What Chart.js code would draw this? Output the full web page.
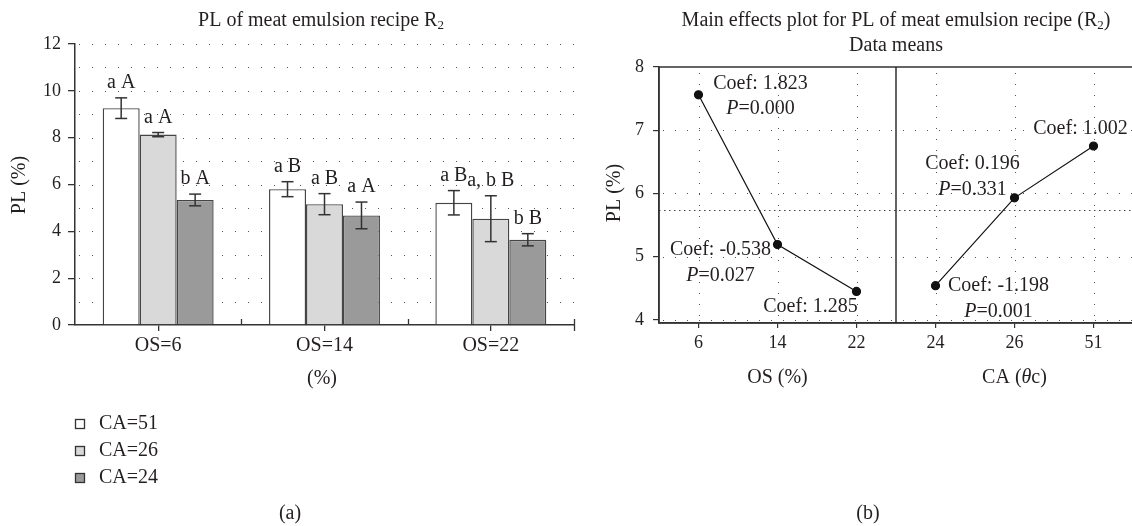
<!DOCTYPE html>
<html><head><meta charset="utf-8">
<script src="https://cdn.jsdelivr.net/npm/chart.js@4.4.0/dist/chart.umd.min.js"></script>
<style>
html,body{margin:0;padding:0;background:#fff;overflow:hidden;width:1132px;height:526px;}
#wa{position:absolute;left:0;top:0;width:580px;height:526px;}
#wb{position:absolute;left:570px;top:0;width:570px;height:526px;}
</style></head><body>
<div id="wa"><canvas id="ca"></canvas></div>
<div id="wb"><canvas id="cb"></canvas></div>
<script>
const FONT = "'Liberation Serif', 'Times New Roman', serif";
const TXT = '#231f20';

// ---------- Panel (a) data ----------
const osGroups = ['OS=6', 'OS=14', 'OS=22'];
const seriesNames = ['CA=51', 'CA=26', 'CA=24'];
const pl51 = [9.26, 5.80, 5.22];
const pl26 = [8.13, 5.16, 4.54];
const pl24 = [5.34, 4.68, 3.64];
const sd51 = [0.44, 0.32, 0.52];
const sd26 = [0.09, 0.45, 0.98];
const sd24 = [0.25, 0.57, 0.26];
const sig51 = ['a A', 'a B', 'a B'];
const sig26 = ['a A', 'a B', 'a, b B'];
const sig24 = ['b A', 'a A', 'b B'];
const yTicksA = [0, 2, 4, 6, 8, 10, 12];

// ---------- Panel (b) data ----------
const osLevels = ['6', '14', '22'];
const caLevels = ['24', '26', '51'];
const osMeans = [7.56, 5.19, 4.45];
const caMeans = [4.54, 5.93, 6.75];
const grandMean = 5.74;
const yTicksB = [4, 5, 6, 7, 8];
const osCoef = ['Coef: 1.823', 'Coef: -0.538', 'Coef: 1.285'];
const osP = ['0.000', '0.027', null];
const caCoef = ['Coef: -1.198', 'Coef: 0.196', 'Coef: 1.002'];
const caP = ['0.001', '0.331', null];

// ---------- helpers ----------
function line(ctx, x1, y1, x2, y2, color, w, dash) {
  ctx.save();
  ctx.strokeStyle = color; ctx.lineWidth = w; ctx.setLineDash(dash || []);
  ctx.beginPath(); ctx.moveTo(x1, y1); ctx.lineTo(x2, y2); ctx.stroke();
  ctx.restore();
}
function font(size, italic) { return (italic ? 'italic ' : '') + size + 'px ' + FONT; }
function runs(ctx, parts, cx, y) {
  // parts: {t, size, italic, dy}
  let total = 0;
  parts.forEach(p => { ctx.font = font(p.size, p.italic); p.w = ctx.measureText(p.t).width; total += p.w; });
  let x = cx - total / 2;
  ctx.save();
  ctx.fillStyle = TXT; ctx.textAlign = 'left'; ctx.textBaseline = 'middle';
  parts.forEach(p => { ctx.font = font(p.size, p.italic); ctx.fillText(p.t, x, y + (p.dy || 0)); x += p.w; });
  ctx.restore();
}
function rotText(ctx, t, x, y, size) {
  ctx.save(); ctx.translate(x, y); ctx.rotate(-Math.PI / 2);
  ctx.font = font(size); ctx.fillStyle = TXT; ctx.textAlign = 'center'; ctx.textBaseline = 'middle';
  ctx.fillText(t, 0, 0); ctx.restore();
}

// ---------- Chart (a) ----------
const fillColors = ['#ffffff', '#d9d9d9', '#9a9a9a'];
const valuesA = [pl51, pl26, pl24];
const errsA = [sd51, sd26, sd24];
const sigsA = [sig51, sig26, sig24];

const pluginA = {
  id: 'pa',
  beforeDatasetsDraw(chart) {
    const {ctx, chartArea: a, scales: {y}} = chart;
    for (let v = 1; v <= 12; v++) {
      const py = Math.round(y.getPixelForValue(v)) + 0.5;
      line(ctx, a.left + 4, py, a.right, py, '#555', 1, [1, 12]);
    }
  },
  afterDatasetsDraw(chart) {
    const {ctx, chartArea: a, scales: {x, y}} = chart;
    chart.data.datasets.forEach((ds, di) => {
      const meta = chart.getDatasetMeta(di);
      meta.data.forEach((bar, i) => {
        const v = valuesA[di][i], e = errsA[di][i];
        const yt = y.getPixelForValue(v + e), yb = y.getPixelForValue(v - e);
        const bx = bar.x;
        line(ctx, bx, yt, bx, yb, '#333', 1.5);
        line(ctx, bx - 6, yt, bx + 6, yt, '#333', 1.5);
        line(ctx, bx - 6, yb, bx + 6, yb, '#333', 1.5);
        ctx.save();
        ctx.font = font(20); ctx.fillStyle = TXT; ctx.textAlign = 'center'; ctx.textBaseline = 'middle';
        ctx.fillText(sigsA[di][i], bx, yt - 15);
        ctx.restore();
      });
    });
    // boundary tick marks (pointing up) between categories and at the end
    const half = (x.getPixelForValue(1) - x.getPixelForValue(0)) / 2;
    for (let i = 0; i < osGroups.length; i++) {
      const bxp = Math.round(x.getPixelForValue(i) + half) + 0.5;
      line(ctx, bxp, a.bottom - 6, bxp, a.bottom + (i === osGroups.length - 1 ? 6 : 0), '#333', 1.3);
    }
  },
  afterDraw(chart) {
    const {ctx, chartArea: a} = chart;
    runs(ctx, [{t: 'PL of meat emulsion recipe R', size: 20}, {t: '2', size: 13, dy: 5}], 321, 21);
    rotText(ctx, 'PL (%)', 20, 185, 20);
    runs(ctx, [{t: '(%)', size: 20}], 322, 379);
    const ly = [424, 451, 478];
    chart.data.datasets.forEach((ds, i) => {
      ctx.save();
      ctx.fillStyle = ds.backgroundColor; ctx.strokeStyle = '#333'; ctx.lineWidth = 1.3;
      ctx.fillRect(75.5, ly[i] - 4.5, 9, 9); ctx.strokeRect(75.5, ly[i] - 4.5, 9, 9);
      ctx.font = font(20); ctx.fillStyle = TXT; ctx.textAlign = 'left'; ctx.textBaseline = 'middle';
      ctx.fillText(ds.label, 99, ly[i]);
      ctx.restore();
    });
    runs(ctx, [{t: '(a)', size: 20}], 290, 514);
  }
};

new Chart(document.getElementById('ca'), {
  type: 'bar',
  data: {
    labels: osGroups,
    datasets: seriesNames.map((n, i) => ({
      label: n, data: valuesA[i], backgroundColor: fillColors[i],
      borderColor: '#454545', borderWidth: 1.4,
      categoryPercentage: 0.667, barPercentage: 1.0
    }))
  },
  options: {
    responsive: true, maintainAspectRatio: false, animation: false,
    layout: {padding: {left: 0, top: 44, right: 6, bottom: 171}},
    plugins: {legend: {display: false}, tooltip: {enabled: false}},
    scales: {
      x: {
        grid: {display: true, drawOnChartArea: false, drawTicks: true, tickLength: 6, color: '#333', lineWidth: 1.3, offset: false},
        border: {color: '#333', width: 1.5},
        ticks: {font: {family: FONT, size: 20}, color: TXT, padding: 3},
        afterFit(s) { s.height = 30; }
      },
      y: {
        min: 0, max: 12,
        ticks: {stepSize: 1, font: {family: FONT, size: 18}, color: TXT, padding: 7,
          callback: (v) => yTicksA.includes(v) ? String(v) : ''},
        grid: {display: true, drawOnChartArea: false, drawTicks: true, tickLength: 7, color: '#333', lineWidth: 1.3},
        border: {color: '#333', width: 1.5},
        afterFit(s) { s.width = 75; }
      }
    }
  },
  plugins: [pluginA]
});

// ---------- Chart (b) ----------
const xLabelsB = osLevels.concat(caLevels);
const osPts = osMeans.map((v, i) => ({x: i, y: v}));
const caPts = caMeans.map((v, i) => ({x: i + osLevels.length, y: v}));
const annB = [
  // offsets in pixels relative to each point: [dx, dyCoef, dyP]
  [62, -11, 14], [-57, 5, 31], [-46, 15, 0],
  [63, 0, 26], [-42, -34, -8], [-13, -17, 0]
];
const coefB = osCoef.concat(caCoef);
const pB = osP.concat(caP);

const pluginB = {
  id: 'pb',
  beforeDatasetsDraw(chart) {
    const {ctx, chartArea: a, scales: {x, y}} = chart;
    yTicksB.forEach(v => {
      if (v === 8) return;
      const py = Math.round(y.getPixelForValue(v)) + 0.5;
      line(ctx, a.left + 4, py, a.right, py, '#555', 1, [1, 11]);
    });
    xLabelsB.forEach((_, i) => {
      const px = Math.round(x.getPixelForValue(i)) + 0.5;
      line(ctx, px, a.top + 6, px, a.bottom, '#555', 1, [1, 10]);
    });
    const my = Math.round(y.getPixelForValue(grandMean)) + 0.5;
    line(ctx, a.left, my, a.right, my, '#444', 1, [1.5, 3.5]);
  },
  afterDraw(chart) {
    const {ctx, chartArea: a, scales: {x, y}} = chart;
    ctx.save();
    ctx.strokeStyle = '#333'; ctx.lineWidth = 1.5;
    ctx.strokeRect(a.left, a.top, a.right - a.left, a.bottom - a.top);
    ctx.restore();
    const dx = x.getPixelForValue(osLevels.length - 0.5);
    line(ctx, dx, a.top, dx, a.bottom, '#222', 1.4);
    const allMeans = osMeans.concat(caMeans);
    allMeans.forEach((m, i) => {
      const px = x.getPixelForValue(i), py = y.getPixelForValue(m);
      const o = annB[i];
      runs(ctx, [{t: coefB[i], size: 20}], px + o[0], py + o[1]);
      if (pB[i]) runs(ctx, [{t: 'P', size: 20, italic: true}, {t: '=' + pB[i], size: 20}], px + o[0], py + o[2]);
    });
    runs(ctx, [{t: 'Main effects plot for PL of meat emulsion recipe (R', size: 20}, {t: '2', size: 13, dy: 5}, {t: ')', size: 20}], 326, 21);
    runs(ctx, [{t: 'Data means', size: 20}], 326, 46);
    rotText(ctx, 'PL (%)', 45, 193, 20);
    runs(ctx, [{t: 'OS (%)', size: 20}], x.getPixelForValue(1), 378);
    runs(ctx, [{t: 'CA (', size: 20}, {t: 'θ', size: 20, italic: true}, {t: 'c)', size: 20}], x.getPixelForValue(4), 378);
    runs(ctx, [{t: '(b)', size: 20}], 298, 514);
  }
};

const lineStyle = {showLine: true, borderColor: '#111', borderWidth: 1.2, pointRadius: 4, pointBackgroundColor: '#111', pointBorderColor: '#111'};
new Chart(document.getElementById('cb'), {
  type: 'scatter',
  data: {datasets: [Object.assign({label: 'OS', data: osPts}, lineStyle), Object.assign({label: 'CA', data: caPts}, lineStyle)]},
  options: {
    responsive: true, maintainAspectRatio: false, animation: false,
    layout: {padding: {left: 0, top: 67, right: 7, bottom: 173}},
    plugins: {legend: {display: false}, tooltip: {enabled: false}},
    scales: {
      x: {
        type: 'linear', min: -0.5, max: 5.5,
        afterBuildTicks(s) { s.ticks = xLabelsB.map((_, i) => ({value: i})); },
        ticks: {font: {family: FONT, size: 18}, color: TXT, padding: 4, autoSkip: false, maxRotation: 0,
          callback: (v, i) => xLabelsB[i]},
        grid: {display: true, drawOnChartArea: false, drawTicks: true, tickLength: 5, color: '#333', lineWidth: 1.2},
        border: {color: '#333', width: 1.5},
        afterFit(s) { s.height = 30; }
      },
      y: {
        min: 3.95, max: 8,
        afterBuildTicks(s) { s.ticks = yTicksB.map(v => ({value: v})); },
        ticks: {font: {family: FONT, size: 18}, color: TXT, padding: 9},
        grid: {display: true, drawOnChartArea: false, drawTicks: true, tickLength: 6, color: '#333', lineWidth: 1.2},
        border: {color: '#333', width: 1.5},
        afterFit(s) { s.width = 89; }
      }
    }
  },
  plugins: [pluginB]
});
</script>
</body></html>
